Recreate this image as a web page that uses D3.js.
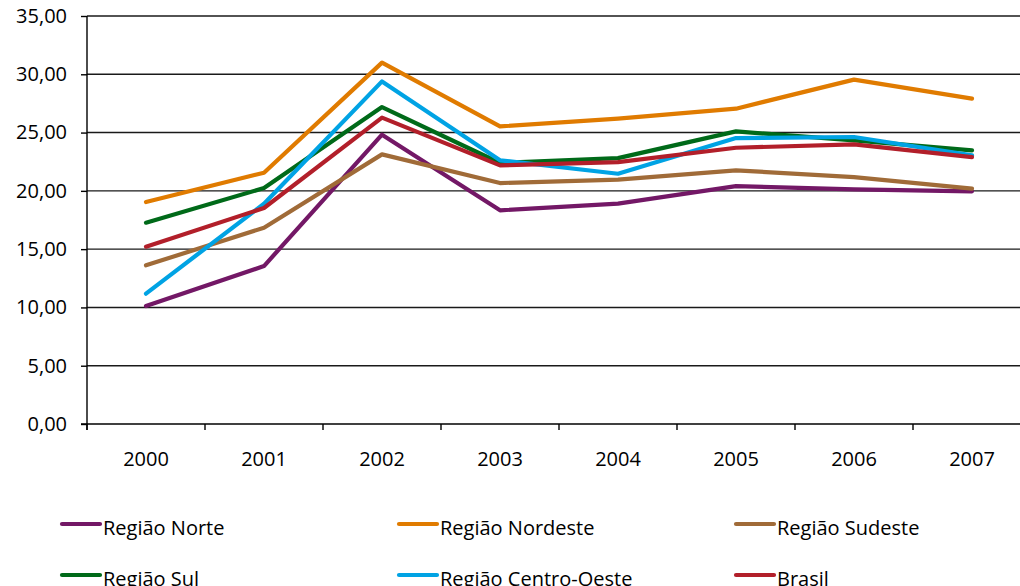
<!DOCTYPE html>
<html>
<head>
<meta charset="utf-8">
<script src="https://cdn.jsdelivr.net/npm/d3@7"></script>
<style>
  html, body { margin: 0; padding: 0; background: #fff; }
  svg { display: block; }
  text { font-family: "Open Sans", sans-serif; fill: #000; }
</style>
</head>
<body>
<svg id="chart" width="1020" height="586"></svg>
<script>
const years = ["2000", "2001", "2002", "2003", "2004", "2005", "2006", "2007"];
const seriesNames = ["Região Norte", "Região Nordeste", "Região Sudeste", "Região Sul", "Região Centro-Oeste", "Brasil"];
const seriesColors = ["#731866", "#e07b00", "#a06b38", "#006a19", "#00a3e4", "#b21f2a"];
const norte      = [10.12, 13.55, 24.82, 18.33, 18.90, 20.41, 20.13, 19.96];
const nordeste   = [19.04, 21.56, 31.00, 25.53, 26.19, 27.05, 29.54, 27.91];
const sudeste    = [13.61, 16.84, 23.13, 20.67, 20.96, 21.76, 21.18, 20.19];
const sul        = [17.27, 20.24, 27.19, 22.39, 22.81, 25.10, 24.33, 23.47];
const centroOeste= [11.18, 18.90, 29.39, 22.62, 21.47, 24.53, 24.62, 23.04];
const brasil     = [15.21, 18.53, 26.28, 22.19, 22.47, 23.70, 23.99, 22.90];
const yTicks = [0, 5, 10, 15, 20, 25, 30, 35];

const seriesValues = [norte, nordeste, sudeste, sul, centroOeste, brasil];

const svg = d3.select("#chart");
const pLeft = 87, pRight = 1031, pTop = 16, pBottom = 424;

const x = d3.scaleBand().domain(years).range([pLeft, pRight]).padding(0);
const y = d3.scaleLinear().domain([0, 35]).range([pBottom, pTop]);

// horizontal gridlines
svg.append("g").selectAll("line").data(yTicks.filter(d => d > 0)).join("line")
  .attr("x1", pLeft).attr("x2", pRight)
  .attr("y1", d => y(d)).attr("y2", d => y(d))
  .attr("stroke", "#1a1a1a").attr("stroke-width", 1.4);

// y axis
const yAxis = d3.axisLeft(y).tickValues(yTicks).tickSize(6).tickPadding(14)
  .tickFormat(d => d3.format(".2f")(d).replace(".", ","));
const gy = svg.append("g").attr("transform", `translate(${pLeft},0)`).call(yAxis);
gy.select(".domain").attr("stroke", "#000").attr("stroke-width", 1.4)
  .attr("d", `M0,${pTop}V${pBottom + 6}`);
gy.selectAll(".tick line").attr("stroke", "#000").attr("stroke-width", 1.4);
gy.selectAll(".tick text").style("font-size", "20px").style("font-family", "'Open Sans', sans-serif").attr("fill", "#000");

// x axis
const gx = svg.append("g").attr("transform", `translate(0,${pBottom})`);
gx.append("line").attr("x1", pLeft - 6).attr("x2", pRight).attr("y1", 0).attr("y2", 0)
  .attr("stroke", "#000").attr("stroke-width", 1.4);
const bounds = years.map(d => x(d)).concat([x(years[years.length - 1]) + x.bandwidth()]);
gx.selectAll("line.tk").data(bounds).join("line").attr("class", "tk")
  .attr("x1", d => d).attr("x2", d => d).attr("y1", 0).attr("y2", 6)
  .attr("stroke", "#000").attr("stroke-width", 1.4);
gx.selectAll("text").data(years).join("text")
  .attr("x", d => x(d) + x.bandwidth() / 2).attr("y", 42)
  .attr("text-anchor", "middle").style("font-size", "20px").text(d => d);

// lines
const line = d3.line().x((d, i) => x(years[i]) + x.bandwidth() / 2).y(d => y(d));
svg.append("g").selectAll("path").data(seriesValues).join("path")
  .attr("d", d => line(d))
  .attr("fill", "none")
  .attr("stroke", (d, i) => seriesColors[i])
  .attr("stroke-width", 4.2)
  .attr("stroke-linejoin", "round")
  .attr("stroke-linecap", "round");

// legend
const legCols = [62, 399, 736], legRows = [524, 575];
const leg = svg.append("g").selectAll("g").data(seriesNames).join("g")
  .attr("transform", (d, i) => `translate(${legCols[i % 3]},${legRows[Math.floor(i / 3)]})`);
leg.append("line").attr("x1", 0).attr("x2", 38).attr("y1", 0).attr("y2", 0)
  .attr("stroke", (d, i) => seriesColors[i]).attr("stroke-width", 4.2).attr("stroke-linecap", "round");
leg.append("text").attr("x", 41).attr("y", 11).style("font-size", "20px").text(d => d);
</script>
</body>
</html>
